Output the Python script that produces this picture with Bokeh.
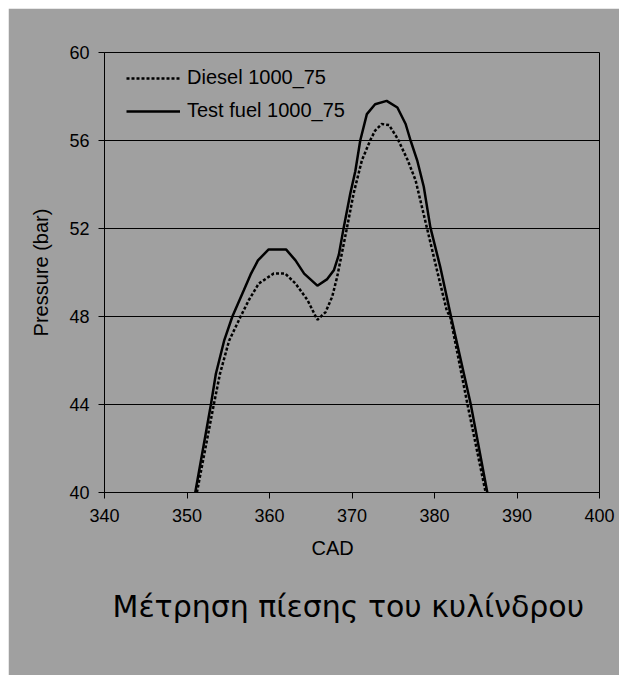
from bokeh.plotting import figure
from bokeh.models import Range1d, FixedTicker, Title, Legend, LegendItem
from bokeh.embed import file_html
from bokeh.resources import INLINE

# Data (CAD vs cylinder pressure, bar)
cad_diesel = [351.2, 353.25, 354.0, 355.1, 356.5, 357.5, 358.7, 360.5, 361.9, 363.15,
              364.6, 365.8, 366.8, 367.6, 368.2, 368.6, 369.4, 370.2, 371.2, 372.2,
              372.8, 373.6, 374.5, 375.5, 376.7, 377.7, 379.1, 380.3, 381.5, 381.9,
              384.0, 386.2]
p_diesel = [40.0, 44.0, 45.4, 46.9, 48.0, 48.75, 49.5, 49.95, 49.95, 49.5,
            48.75, 47.85, 48.2, 48.9, 49.8, 50.55, 52.05, 53.6, 55.1, 56.0,
            56.45, 56.75, 56.7, 56.1, 55.15, 54.2, 52.0, 50.1, 48.25, 48.0,
            44.0, 40.0]

cad_test = [351.0, 352.9, 353.5, 354.5, 355.5, 356.9, 357.7, 358.6, 359.9, 362.0,
            363.15, 364.2, 365.8, 367.0, 367.8, 368.4, 369.0, 369.8, 370.4, 371.0,
            371.8, 372.8, 374.2, 375.5, 376.5, 377.1, 377.9, 378.7, 379.5, 380.7,
            382.0, 384.4, 386.4]
p_test = [40.0, 44.0, 45.4, 46.9, 48.0, 49.2, 49.9, 50.55, 51.05, 51.05,
          50.55, 49.95, 49.4, 49.7, 50.1, 50.8, 52.05, 53.6, 54.6, 56.0,
          57.2, 57.65, 57.8, 57.5, 56.75, 56.0, 55.1, 53.9, 52.05, 50.25,
          48.0, 44.0, 40.0]

x_ticks = [340, 350, 360, 370, 380, 390, 400]
y_ticks = [40, 44, 48, 52, 56, 60]

series_names = ["Diesel 1000_75", "Test fuel 1000_75"]
x_title = "CAD"
y_title = "Pressure (bar)"
caption = "Μέτρηση πίεσης του κυλίνδρου"

GRAY = "#a0a0a0"
FONT = "Liberation Sans"

p = figure(width=611, height=667, output_backend="svg", toolbar_location=None,
           x_range=Range1d(340, 400), y_range=Range1d(40, 60),
           min_border_left=96, min_border_right=20, min_border_top=44,
           min_border_bottom=183)
p.margin = (8, 0, 0, 8)
p.background_fill_color = GRAY
p.border_fill_color = GRAY
p.outline_line_color = "black"
p.outline_line_width = 1

# axes
p.xaxis.ticker = FixedTicker(ticks=x_ticks)
p.yaxis.ticker = FixedTicker(ticks=y_ticks)
for ax in (p.xaxis, p.yaxis):
    ax.axis_line_color = "black"
    ax.axis_line_width = 1
    ax.major_tick_line_color = "black"
    ax.major_tick_out = 6
    ax.major_tick_in = 0
    ax.minor_tick_line_color = None
    ax.major_label_text_font = FONT
    ax.major_label_text_font_size = "18px"
    ax.major_label_text_color = "black"
    ax.axis_label_text_font = FONT
    ax.axis_label_text_font_size = "20px"
    ax.axis_label_text_font_style = "normal"
    ax.axis_label_text_color = "black"
p.xaxis.major_label_standoff = 10
p.yaxis.major_label_standoff = 9
p.yaxis.axis_label = y_title
p.yaxis.axis_label_standoff = 14

# grid
p.xgrid.grid_line_color = None
p.ygrid.grid_line_color = "black"
p.ygrid.grid_line_width = 1

r_d = p.line(cad_diesel, p_diesel, line_color="black", line_width=2.5, line_dash="3 2")
r_t = p.line(cad_test, p_test, line_color="black", line_width=2.5)

legend = Legend(items=[LegendItem(label=series_names[0], renderers=[r_d]),
                       LegendItem(label=series_names[1], renderers=[r_t])],
                location=(22, 370), padding=0, margin=0, spacing=10,
                glyph_width=54, glyph_height=20, label_height=20,
                label_standoff=7, border_line_color=None,
                background_fill_alpha=0,
                label_text_font=FONT, label_text_font_size="20px",
                label_text_color="black")
p.add_layout(legend, "center")

t_cad = Title(text=x_title, align="left", offset=207, standoff=21,
              text_font=FONT, text_font_size="20px", text_font_style="normal",
              text_color="black")
t_cap = Title(text=caption, align="left", offset=8, standoff=34,
              text_font="DejaVu Sans", text_font_size="30px", text_font_style="normal",
              text_color="black")
p.add_layout(t_cad, "below")
p.add_layout(t_cap, "below")

open("out.html", "w").write(file_html(p, INLINE))
